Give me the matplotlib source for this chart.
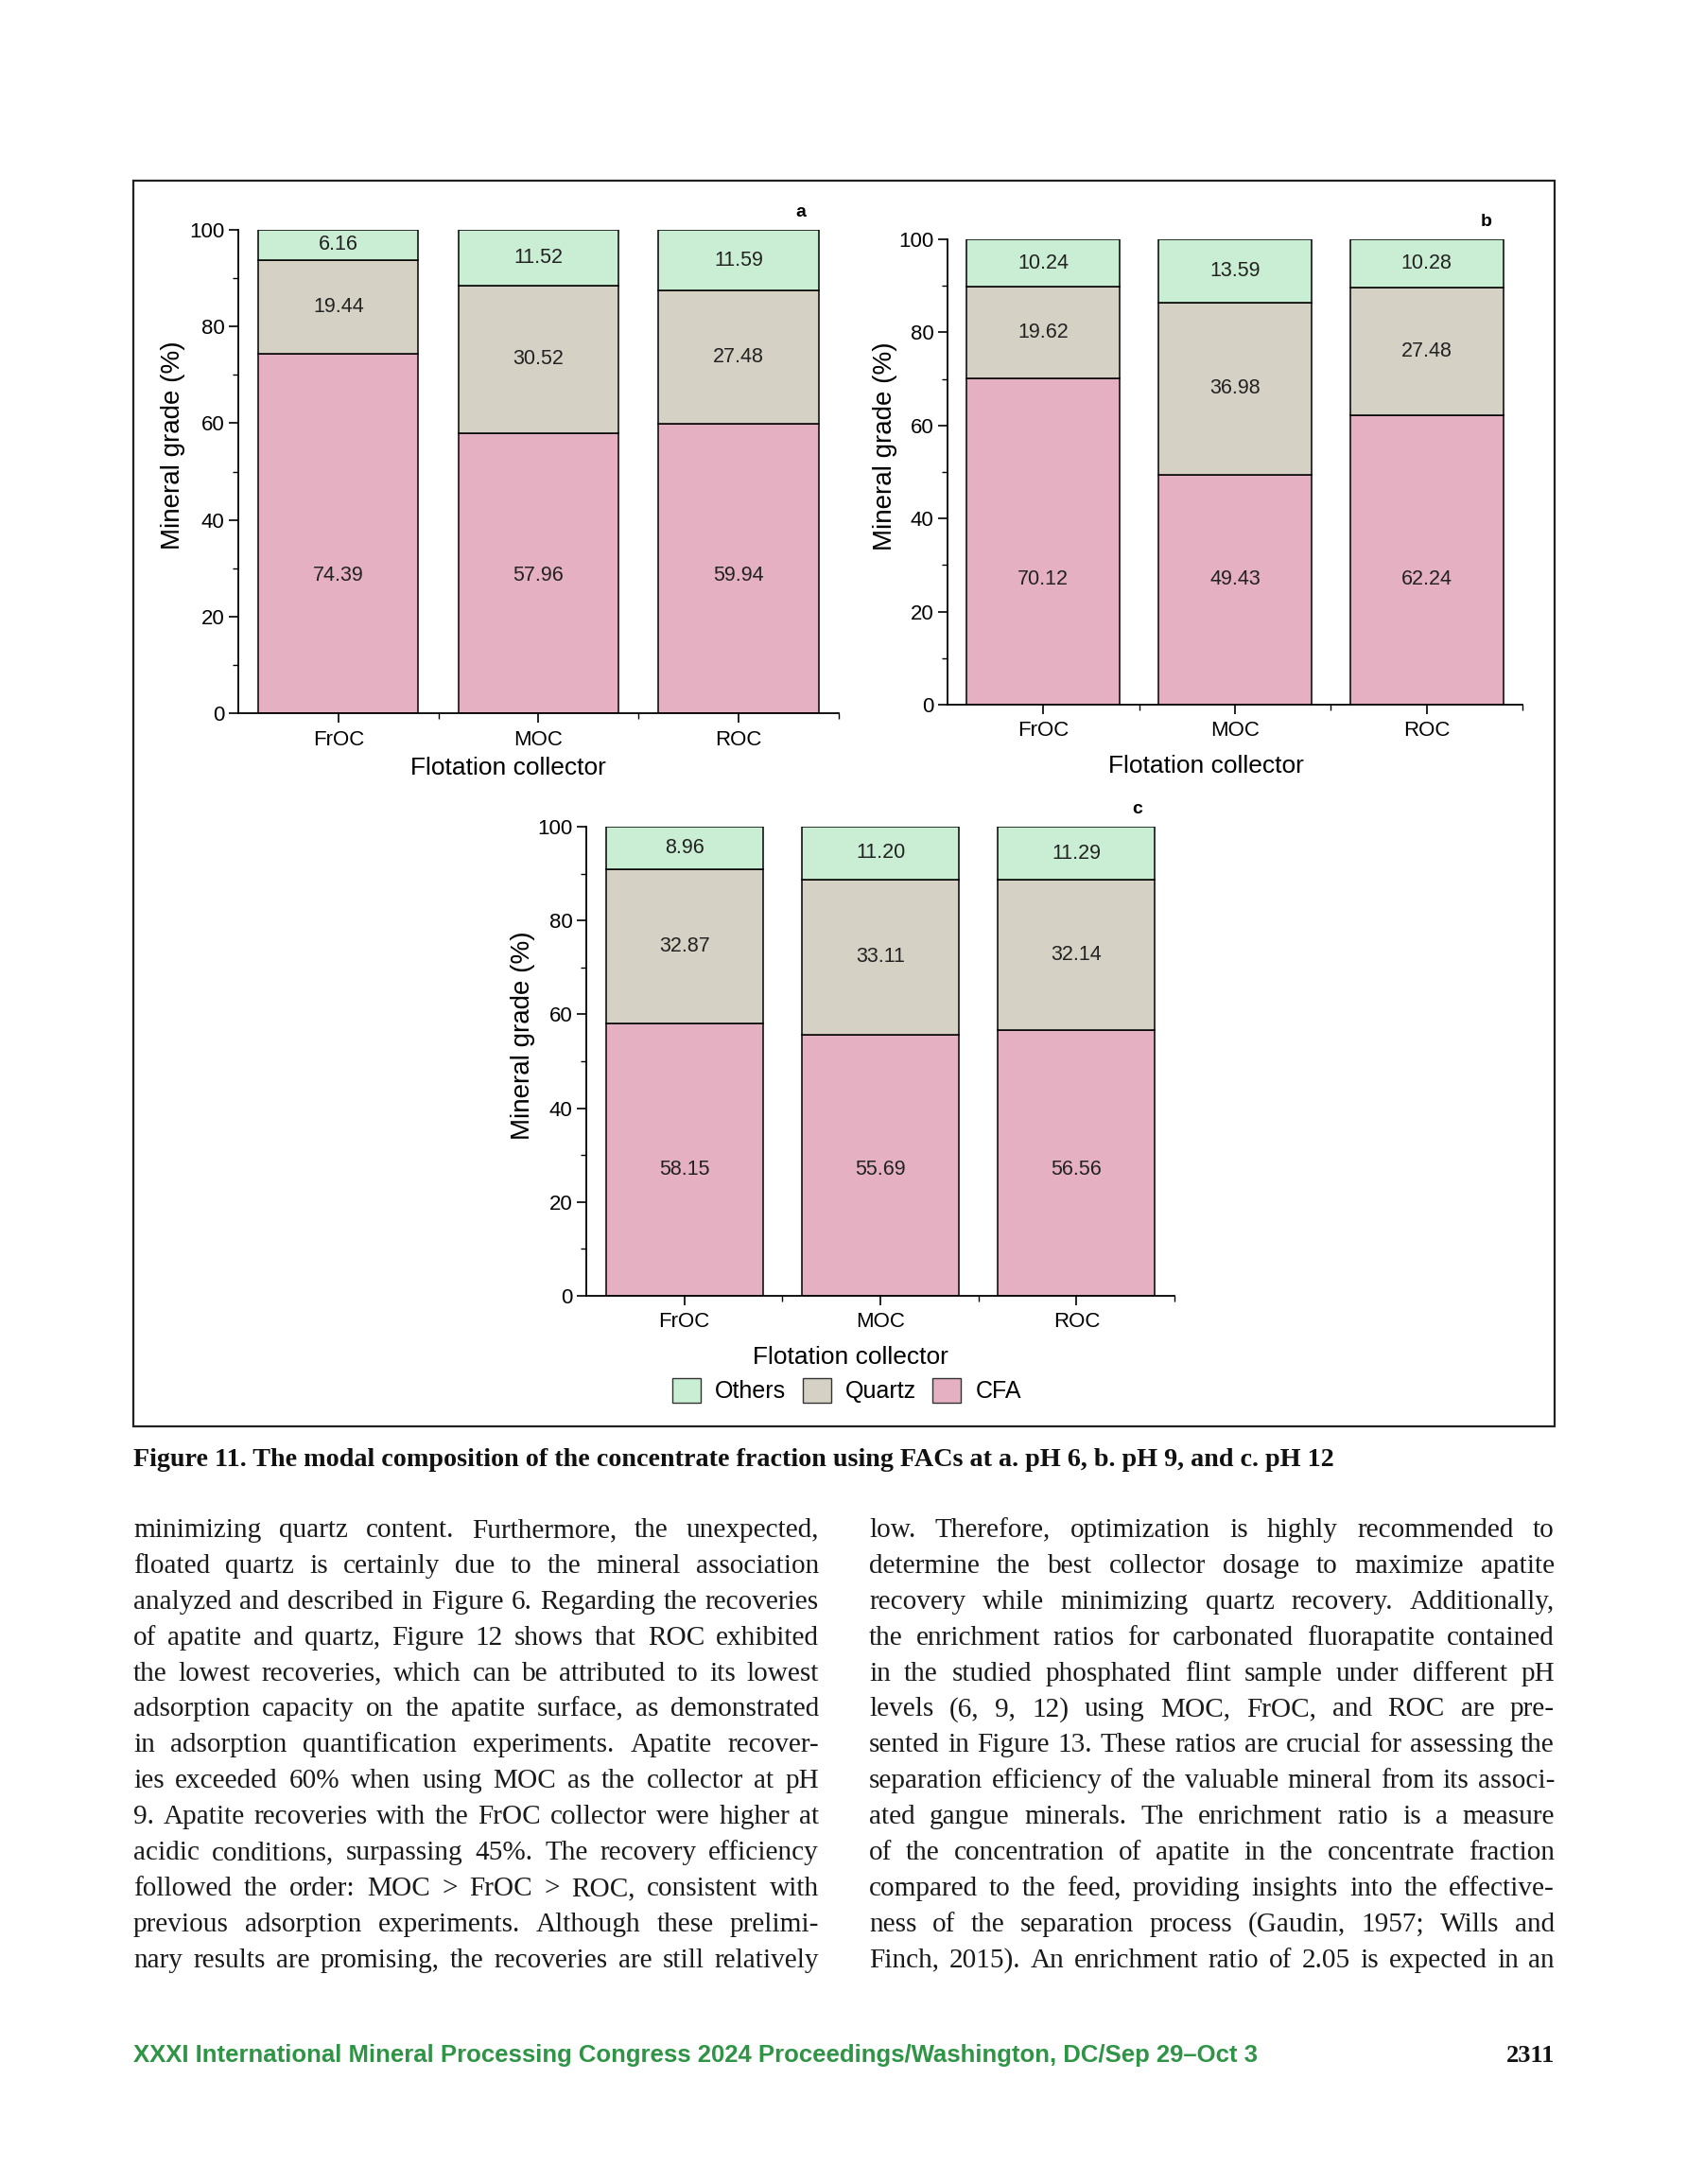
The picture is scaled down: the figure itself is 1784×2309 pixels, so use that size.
import matplotlib
matplotlib.use('Agg')
import matplotlib.pyplot as plt
from matplotlib.font_manager import FontProperties, findfont
from matplotlib.patches import Rectangle, Patch
from matplotlib.ticker import MultipleLocator, FixedLocator

# --- data ---
categories = ['FrOC', 'MOC', 'ROC']

cfa_a = [74.39, 57.96, 59.94]
quartz_a = [19.44, 30.52, 27.48]
others_a = [6.16, 11.52, 11.59]

cfa_b = [70.12, 49.43, 62.24]
quartz_b = [19.62, 36.98, 27.48]
others_b = [10.24, 13.59, 10.28]

cfa_c = [58.15, 55.69, 56.56]
quartz_c = [32.87, 33.11, 32.14]
others_c = [8.96, 11.20, 11.29]

legend_labels = ['Others', 'Quartz', 'CFA']

caption = ("Figure 11. The modal composition of the concentrate fraction using FACs "
           "at a. pH 6, b. pH 9, and c. pH 12")

left_col = [
    "minimizing quartz content. Furthermore, the unexpected,",
    "floated quartz is certainly due to the mineral association",
    "analyzed and described in Figure 6. Regarding the recoveries",
    "of apatite and quartz, Figure 12 shows that ROC exhibited",
    "the lowest recoveries, which can be attributed to its lowest",
    "adsorption capacity on the apatite surface, as demonstrated",
    "in adsorption quantification experiments. Apatite recover-",
    "ies exceeded 60% when using MOC as the collector at pH",
    "9. Apatite recoveries with the FrOC collector were higher at",
    "acidic conditions, surpassing 45%. The recovery efficiency",
    "followed the order: MOC > FrOC > ROC, consistent with",
    "previous adsorption experiments. Although these prelimi-",
    "nary results are promising, the recoveries are still relatively",
]
right_col = [
    "low. Therefore, optimization is highly recommended to",
    "determine the best collector dosage to maximize apatite",
    "recovery while minimizing quartz recovery. Additionally,",
    "the enrichment ratios for carbonated fluorapatite contained",
    "in the studied phosphated flint sample under different pH",
    "levels (6, 9, 12) using MOC, FrOC, and ROC are pre-",
    "sented in Figure 13. These ratios are crucial for assessing the",
    "separation efficiency of the valuable mineral from its associ-",
    "ated gangue minerals. The enrichment ratio is a measure",
    "of the concentration of apatite in the concentrate fraction",
    "compared to the feed, providing insights into the effective-",
    "ness of the separation process (Gaudin, 1957; Wills and",
    "Finch, 2015). An enrichment ratio of 2.05 is expected in an",
]
footer = "XXXI International Mineral Processing Congress 2024 Proceedings/Washington, DC/Sep 29\u2013Oct 3"
page_no = "2311"

# --- style ---
C_CFA = '#e4b0c2'
C_QTZ = '#d5d1c5'
C_OTH = '#caeed3'
SANS = ['Liberation Sans', 'DejaVu Sans']
SERIF = ['Liberation Serif', 'DejaVu Serif']
# narrow sans for the footer if it is installed
try:
    findfont(FontProperties(family='Liberation Sans Narrow'), fallback_to_default=False)
    NARROW = ['Liberation Sans Narrow', 'Liberation Sans']
except Exception:
    NARROW = SANS

plt.rcParams['font.family'] = SANS

W, H = 1784, 2309
fig = plt.figure(figsize=(W / 100, H / 100), dpi=100)
fig.patch.set_facecolor('white')


def px_rect(left, top, right, bottom):
    # pixel box -> figure fraction [l, b, w, h]
    return [left / W, 1 - bottom / H, (right - left) / W, (bottom - top) / H]


def stacked_panel(rect, cfa, qtz, oth, letter, cfa_label_y, xlab_y, tick_pad):
    ax = fig.add_axes(rect)
    x = range(len(categories))
    kw = dict(width=0.8, edgecolor='black', linewidth=1.1)
    top_bottom = [a + b for a, b in zip(cfa, qtz)]
    ax.bar(x, cfa, color=C_CFA, **kw)
    ax.bar(x, qtz, bottom=cfa, color=C_QTZ, **kw)
    # top segment is drawn up to the 100 % line, as in the original
    ax.bar(x, [100 - t for t in top_bottom], bottom=top_bottom, color=C_OTH, **kw)

    for i in x:
        ax.text(i, cfa_label_y, f'{cfa[i]:.2f}', ha='center', va='center', fontsize=15.5, color='#222222')
        ax.text(i, cfa[i] + qtz[i] / 2, f'{qtz[i]:.2f}', ha='center', va='center', fontsize=15.5, color='#222222')
        ax.text(i, (top_bottom[i] + 100) / 2, f'{oth[i]:.2f}', ha='center', va='center', fontsize=15.5, color='#222222')

    ax.set_xlim(-0.5, 2.5)
    ax.set_ylim(0, 100)
    ax.set_xticks(list(x))
    ax.set_xticklabels(categories, fontsize=16)
    ax.xaxis.set_minor_locator(FixedLocator([0.5, 1.5, 2.5]))
    ax.yaxis.set_major_locator(MultipleLocator(20))
    ax.yaxis.set_minor_locator(MultipleLocator(10))
    ax.tick_params(axis='both', which='major', direction='out', length=7, width=1.2, labelsize=16)
    ax.tick_params(axis='both', which='minor', direction='out', length=4, width=1.0)
    ax.tick_params(axis='x', which='major', pad=tick_pad)
    for s in ['top', 'right']:
        ax.spines[s].set_visible(False)
    for s in ['left', 'bottom']:
        ax.spines[s].set_linewidth(1.3)
    ax.text(-0.108, 0.555, 'Mineral grade (%)', transform=ax.transAxes, rotation=90,
            ha='center', va='center', fontsize=20)
    ax.text(0.45, xlab_y, 'Flotation collector', transform=ax.transAxes,
            ha='center', va='center', fontsize=19)
    ax.text(0.937, 1.037, letter, transform=ax.transAxes, ha='center', va='center',
            fontsize=14, fontweight='bold')
    return ax


stacked_panel(px_rect(252, 243, 887, 754), cfa_a, quartz_a, others_a, 'a', 28.4, -0.113, 6)
stacked_panel(px_rect(1002, 253, 1610, 745), cfa_b, quartz_b, others_b, 'b', 27.0, -0.132, 5)
stacked_panel(px_rect(620, 874, 1242, 1370), cfa_c, quartz_c, others_c, 'c', 27.0, -0.131, 5)

# legend under panel c
handles = [Patch(facecolor=c, edgecolor='#333333', linewidth=1.0) for c in (C_OTH, C_QTZ, C_CFA)]
fig.legend(handles, legend_labels, loc='center', bbox_to_anchor=(0.502, 1 - 1470 / H), ncol=3,
           frameon=False, fontsize=18, handlelength=1.2, handleheight=1.25,
           handletextpad=0.6, columnspacing=0.7)

# frame around the figure
fig.patches.append(Rectangle((141 / W, 1 - 1508 / H), (1644 - 141) / W, (1508 - 191) / H,
                             transform=fig.transFigure, fill=False, edgecolor='#222222', linewidth=1.6))

# --- page text ---
renderer = fig.canvas.get_renderer()


def text_w(s, size, family, weight='normal'):
    fp = FontProperties(family=family, size=size, weight=weight)
    w, h, d = renderer.get_text_width_height_descent(s, fp, ismath=False)
    return w


def fit_size(s, width_px, family, weight='normal', base=20):
    return base * width_px / text_w(s, base, family, weight)


# caption
cap_size = fit_size(caption, 1273, SERIF, 'bold')
fig.text(141 / W, 1 - 1550 / H, caption, fontsize=cap_size, fontweight='bold',
         family=SERIF, ha='left', va='baseline', color='#111111')

# body text, justified in two columns
col_w = 725
body_size = min(min(fit_size(l, col_w * 0.99, SERIF) for l in left_col + right_col), 23)


def justified(lines, x0, y0, step):
    for k, line in enumerate(lines):
        words = line.split(' ')
        widths = [text_w(w, body_size, SERIF) for w in words]
        gap = (col_w - sum(widths)) / (len(words) - 1)
        xx = x0
        y = y0 + k * step
        for w, ww in zip(words, widths):
            fig.text(xx / W, 1 - y / H, w, fontsize=body_size, family=SERIF,
                     ha='left', va='baseline', color='#1a1a1a')
            xx += ww + gap


justified(left_col, 141, 1625, 37.9)
justified(right_col, 919, 1625, 37.9)

# footer
foot_size = fit_size(footer, 1192, NARROW, 'bold')
fig.text(141 / W, 1 - 2180 / H, footer, fontsize=foot_size, fontweight='bold',
         family=NARROW, color='#2f9445', ha='left', va='baseline')
fig.text(1644 / W, 1 - 2180 / H, page_no, fontsize=19, fontweight='bold',
         family=SERIF, color='#111111', ha='right', va='baseline')

fig.savefig('out.png', dpi=100)
